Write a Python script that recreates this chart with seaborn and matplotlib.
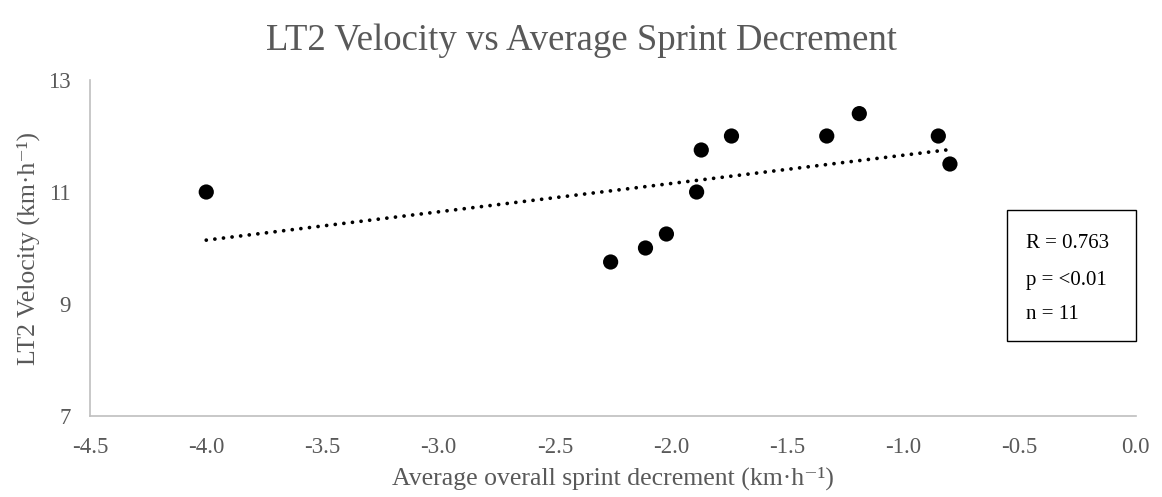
import numpy as np
import pandas as pd
import matplotlib
matplotlib.use("Agg")
import matplotlib.pyplot as plt
from matplotlib.patches import Rectangle
import seaborn as sns

# Data
sprint_decrement = [-4.00, -2.26, -2.11, -2.02, -1.89, -1.87, -1.74, -1.33, -1.19, -0.85, -0.80]
lt2_velocity = [11.0, 9.75, 10.0, 10.25, 11.0, 11.75, 12.0, 12.0, 12.4, 12.0, 11.5]
x_ticks = [-4.5, -4.0, -3.5, -3.0, -2.5, -2.0, -1.5, -1.0, -0.5, 0.0]
y_ticks = [7, 9, 11, 13]
stats_lines = ["R = 0.763", "p = <0.01", "n = 11"]

df = pd.DataFrame({"x": sprint_decrement, "y": lt2_velocity})

sns.set_theme(style="white")
plt.rcParams["font.family"] = ["Liberation Serif", "DejaVu Serif"]

fig = plt.figure(figsize=(11.62, 4.97), dpi=100)
ax = fig.add_axes([0.0775, 0.163, 0.9, 0.676])

sns.regplot(data=df, x="x", y="y", ax=ax, ci=None, truncate=True,
            scatter_kws=dict(s=120, color="black", edgecolor="none", alpha=1, zorder=3),
            line_kws=dict(color="black", linestyle=(0, (0.01, 2.3)), linewidth=2.7,
                          dash_capstyle="round"))

ax.set_xlim(-4.5, 0.0)
ax.set_ylim(7, 13)
ax.set_xticks(x_ticks)
ax.set_xticklabels([f"{v:.1f}" for v in x_ticks])
ax.set_yticks(y_ticks)
ax.tick_params(axis="both", length=0, labelsize=16.5, colors="#595959")
ax.tick_params(axis="x", pad=15)
ax.tick_params(axis="y", pad=14)

for side in ["top", "right"]:
    ax.spines[side].set_visible(False)
for side in ["left", "bottom"]:
    ax.spines[side].set_color("#BFBFBF")
    ax.spines[side].set_linewidth(1.2)

ax.set_xlabel("Average overall sprint decrement (km\u00b7h\u207b\u00b9)", fontsize=18.5,
              color="#595959", labelpad=6)
ax.set_ylabel("LT2 Velocity (km\u00b7h\u207b\u00b9)", fontsize=18.5, color="#595959", labelpad=6)
fig.text(0.5, 0.918, "LT2 Velocity vs Average Sprint Decrement", fontsize=26.5,
         color="#595959", ha="center", va="center")

# stats box
ax.add_patch(Rectangle((0.877, 0.223), 0.123, 0.391, transform=ax.transAxes,
                       facecolor="white", edgecolor="black", linewidth=1, clip_on=False, zorder=4))
for txt, yy in zip(stats_lines, [0.513, 0.402, 0.302]):
    ax.text(0.895, yy, txt, transform=ax.transAxes, fontsize=15, color="black",
            ha="left", va="center", zorder=5)

fig.savefig("out.png", dpi=100)
